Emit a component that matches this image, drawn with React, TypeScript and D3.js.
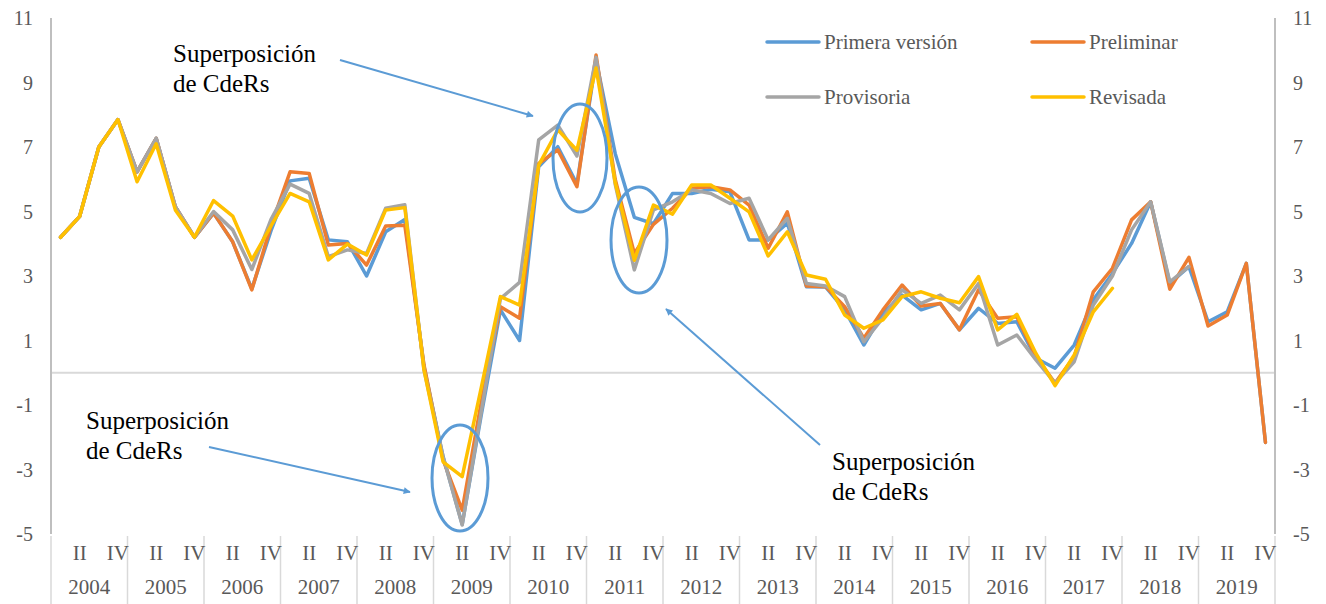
import React from 'react';
import * as d3 from 'd3';

// Quarterly growth, 2004 Q1 – 2019 Q4 (64 quarters)
const years = d3.range(2004, 2020);
const quarterTicks = ['', 'II', '', 'IV'];

const primeraVersion = [
  4.2, 4.85, 7.0, 7.85, 6.23, 7.27, 5.15, 4.2,
  4.95, 4.06, 2.6, 4.4, 5.95, 6.03, 4.12, 4.06,
  3.0, 4.37, 4.75, 0.2, -2.6, -4.7, -1.3, 1.95,
  1.0, 6.39, 7.01, 5.85, 9.7, 6.8, 4.82, 4.62,
  5.56, 5.56, 5.69, 5.61, 4.12, 4.12, 4.64, 2.67,
  2.66, 1.95, 0.86, 1.85, 2.41, 1.95, 2.15, 1.33,
  2.0, 1.53, 1.58, 0.45, 0.14, 0.86, 2.26, 3.08,
  4.01, 5.3, 2.77, 3.29, 1.58, 1.89, 3.39, -2.16,
];
const preliminar = [
  4.2, 4.85, 7.0, 7.85, 6.23, 7.27, 5.15, 4.2,
  4.95, 4.06, 2.57, 4.55, 6.23, 6.18, 3.96, 4.01,
  3.34, 4.55, 4.57, 0.25, -2.7, -4.26, -0.9, 2.05,
  1.69, 6.49, 6.91, 5.77, 9.85, 6.0, 3.7, 4.6,
  5.1, 5.72, 5.77, 5.67, 5.2, 3.86, 4.99, 2.69,
  2.67, 2.05, 1.07, 1.95, 2.72, 2.07, 2.15, 1.33,
  2.57, 1.69, 1.74, 0.5, -0.32, 0.5, 2.51, 3.24,
  4.74, 5.3, 2.59, 3.58, 1.45, 1.79, 3.39, -2.16,
];
const provisoria = [
  4.2, 4.85, 7.0, 7.85, 6.23, 7.27, 5.15, 4.2,
  5.0, 4.43, 3.2, 4.75, 5.85, 5.56, 3.6, 3.81,
  3.7, 5.1, 5.21, 0.1, -2.6, -4.72, -1.2, 2.3,
  2.8, 7.22, 7.68, 6.72, 9.78, 5.85, 3.19, 5.05,
  5.3, 5.67, 5.56, 5.25, 5.41, 4.12, 4.79, 2.77,
  2.69, 2.36, 0.96, 1.7, 2.57, 2.15, 2.41, 1.95,
  2.77, 0.86, 1.17, 0.4, -0.32, 0.34, 2.1, 3.0,
  4.43, 5.3, 2.82, 3.29, null, null, null, null,
];
const revisada = [
  4.2, 4.85, 7.0, 7.85, 5.92, 7.1, 5.05, 4.2,
  5.34, 4.86, 3.5, 4.55, 5.56, 5.3, 3.5, 3.99,
  3.65, 5.05, 5.12, 0.1, -2.76, -3.22, -0.45, 2.36,
  2.1, 6.44, 7.53, 6.9, 9.45, 5.9, 3.49, 5.2,
  4.92, 5.82, 5.82, 5.41, 4.99, 3.62, 4.37, 3.03,
  2.9, 1.79, 1.38, 1.64, 2.36, 2.51, 2.31, 2.17,
  2.98, 1.33, 1.81, 0.6, -0.4, 0.55, 1.89, 2.62,
  null, null, null, null, null, null, null, null,
];

const series = [
  { name: 'Primera versión', color: '#5b9bd5', values: primeraVersion },
  { name: 'Preliminar', color: '#ed7d31', values: preliminar },
  { name: 'Provisoria', color: '#a5a5a5', values: provisoria },
  { name: 'Revisada', color: '#ffc000', values: revisada },
];

const yTicks = [-5, -3, -1, 1, 3, 5, 7, 9, 11];

const W = 1326;
const H = 604;
const left = 51;
const right = 1275;
const top = 18;
const bottom = 534;
const font = 'Liberation Serif, DejaVu Serif, serif';
const textColor = '#595959';
const arrowColor = '#5b9bd5';

export default function App() {
  const n = primeraVersion.length;
  const x = d3.scaleBand<number>().domain(d3.range(n)).range([left, right]);
  const cx = (i: number) => (x(i) as number) + x.bandwidth() / 2;
  const y = d3.scaleLinear().domain([-5, 11]).range([bottom, top]);
  const yearWidth = x.bandwidth() * 4;

  const line = d3
    .line<number | null>()
    .defined((d) => d !== null)
    .x((_, i) => cx(i))
    .y((d) => y(d as number));

  const notes = [
    { tx: 173, ty: 62, from: [340, 60], to: [533, 116] },
    { tx: 86, ty: 429, from: [209, 447], to: [410, 492] },
    { tx: 832, ty: 470, from: [820, 445], to: [666, 309] },
  ];
  const ellipses = [
    { cx: 460, cy: 478, rx: 28, ry: 53 },
    { cx: 580, cy: 158, rx: 27, ry: 54 },
    { cx: 639, cy: 240, rx: 28, ry: 53 },
  ];

  return (
    <div style={{ position: 'absolute', left: 0, top: 0 }}>
      <svg width={W} height={H} style={{ display: 'block', background: '#fff', fontFamily: font }}>
        <defs>
          <marker id="arrow" viewBox="0 0 10 10" refX="9" refY="5" markerWidth="9" markerHeight="7" orient="auto" markerUnits="userSpaceOnUse">
            <path d="M0,0 L10,5 L0,10 z" fill={arrowColor} />
          </marker>
        </defs>

        {/* zero line */}
        <line x1={left} x2={right} y1={y(0)} y2={y(0)} stroke="#d9d9d9" strokeWidth={2} />

        {/* vertical axes */}
        <line x1={left} x2={left} y1={top} y2={bottom} stroke="#bfbfbf" strokeWidth={2} />
        <line x1={right} x2={right} y1={top} y2={bottom} stroke="#bfbfbf" strokeWidth={2} />

        {yTicks.map((t) => (
          <g key={t} fontFamily={font} fontSize={20} fill={textColor}>
            <text x={33} y={y(t)} dy="0.35em" textAnchor="end">{t}</text>
            <text x={1293} y={y(t)} dy="0.35em" textAnchor="start">{t}</text>
          </g>
        ))}

        {/* category axis: year separators, quarter ticks, year labels */}
        {d3.range(years.length + 1).map((k) => (
          <line key={'sep' + k} x1={left + k * yearWidth} x2={left + k * yearWidth} y1={bottom + 2} y2={H} stroke="#d9d9d9" strokeWidth={1.5} />
        ))}
        {d3.range(n).map((i) =>
          quarterTicks[i % 4] ? (
            <text key={'q' + i} x={cx(i)} y={560} textAnchor="middle" fontFamily={font} fontSize={21} fill={textColor}>
              {quarterTicks[i % 4]}
            </text>
          ) : null
        )}
        {years.map((yr, k) => (
          <text key={yr} x={left + (k + 0.5) * yearWidth} y={594} textAnchor="middle" fontFamily={font} fontSize={21} fill={textColor}>
            {yr}
          </text>
        ))}

        {/* series */}
        {series.map((s) => (
          <path key={s.name} d={line(s.values) || ''} fill="none" stroke={s.color} strokeWidth={3.5} strokeLinejoin="round" strokeLinecap="round" />
        ))}

        {/* legend */}
        {series.map((s, i) => {
          const lx = i % 2 === 0 ? 767 : 1032;
          const ly = i < 2 ? 42 : 97;
          return (
            <g key={'lg' + s.name}>
              <line x1={lx} x2={lx + 52} y1={ly} y2={ly} stroke={s.color} strokeWidth={3.5} strokeLinecap="round" />
              <text x={lx + 57} y={ly} dy="0.33em" fontFamily={font} fontSize={21} fill={textColor}>{s.name}</text>
            </g>
          );
        })}

        {/* annotations */}
        {ellipses.map((e, i) => (
          <ellipse key={'el' + i} cx={e.cx} cy={e.cy} rx={e.rx} ry={e.ry} fill="none" stroke={arrowColor} strokeWidth={3} />
        ))}
        {notes.map((a, i) => (
          <g key={'nt' + i}>
            <line x1={a.from[0]} y1={a.from[1]} x2={a.to[0]} y2={a.to[1]} stroke={arrowColor} strokeWidth={2} markerEnd="url(#arrow)" />
            <text x={a.tx} y={a.ty} fontFamily={font} fontSize={25} fill="#000">
              <tspan x={a.tx} fontFamily={font}>Superposición</tspan>
              <tspan x={a.tx} dy={30} fontFamily={font}>de CdeRs</tspan>
            </text>
          </g>
        ))}
      </svg>
    </div>
  );
}
